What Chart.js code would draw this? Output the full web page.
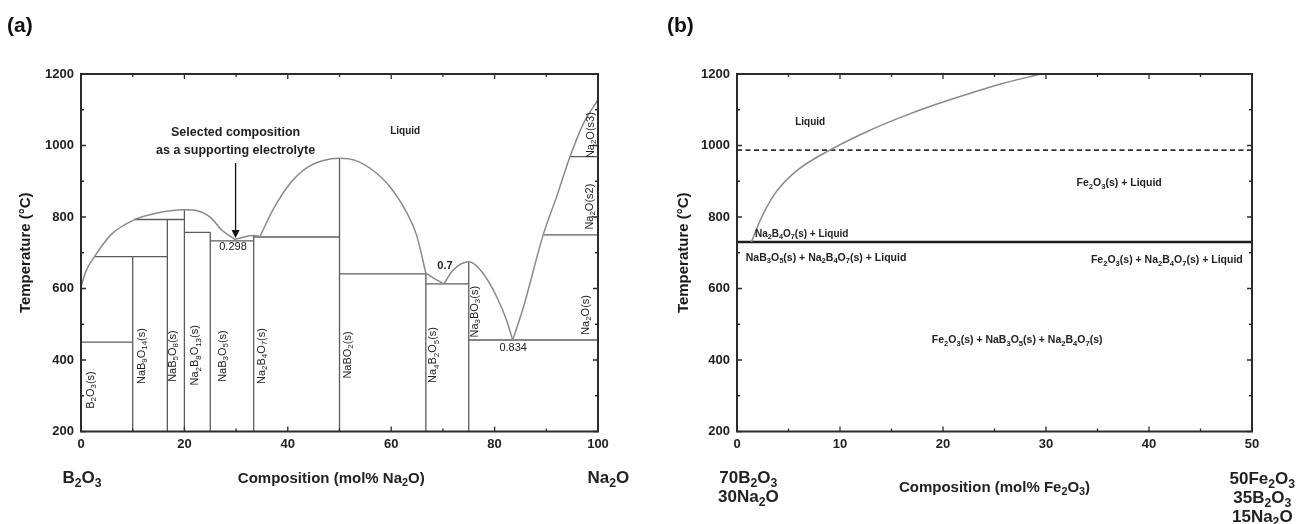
<!DOCTYPE html>
<html>
<head>
<meta charset="utf-8">
<title>B2O3-Na2O and Fe2O3 phase diagrams</title>
<script src="https://cdn.jsdelivr.net/npm/chart.js@4.4.1/dist/chart.umd.min.js"></script>
<style>
  html, body { margin: 0; padding: 0; background: #fff; }
  #wrap { position: relative; width: 1303px; height: 524px; overflow: hidden; }
  .panel { position: absolute; top: 0; height: 524px; }
  #pa { left: 0; width: 640px; }
  #pb { left: 640px; width: 663px; }
</style>
</head>
<body>
<div id="wrap">
  <div class="panel" id="pa"><canvas id="chartA"></canvas></div>
  <div class="panel" id="pb"><canvas id="chartB"></canvas></div>
</div>
<script>
const FONT = "'Liberation Sans', Arial, Helvetica, sans-serif";
Chart.defaults.font.family = FONT;
Chart.defaults.color = "#222";

// ---------- data, panel (a): B2O3 - Na2O ----------
const xTicksA = [0, 20, 40, 60, 80, 100];
const yTicks = [200, 400, 600, 800, 1000, 1200];

// liquidus arcs [mol% Na2O, °C], split at the eutectic / peritectic cusps
const liqB2O3Side = [[0, 605], [1, 650], [2.6, 689], [5.9, 752], [10.4, 793], [14.3, 810], [20, 820], [22.6, 817], [25.2, 797], [27.1, 765], [29.8, 737]];
const liqBump = [[29.8, 737], [31.7, 745], [33.5, 748], [34.6, 745]];
const liqNaBO2 = [[34.6, 745], [37.2, 822], [40.4, 893], [43.7, 938], [46.9, 958], [50, 964], [53.3, 957], [56.5, 930], [59.8, 884], [63, 812], [64.9, 750], [66.7, 643]];
const liqNa4B2O5 = [[66.7, 643], [68.1, 630], [70.2, 613]];
const liqNa3BO3 = [[70.2, 613], [72, 652], [75.1, 675], [77.8, 642], [80.4, 577], [82.3, 512], [83.5, 456]];
const liqNa2O = [[83.5, 456], [85.6, 549], [89.4, 750], [92, 857], [94.6, 969], [97.2, 1062], [100, 1128]];

// horizontal tie lines [from, to, °C]
const tiesA = [[0, 10, 450], [2.6, 16.7, 689], [10.4, 20, 793], [20, 25, 757], [25, 33.4, 733], [33.4, 50, 744],
               [50, 66.7, 641], [66.7, 75, 613], [75, 100, 456], [89.4, 100, 750], [94.6, 100, 969]];
// compound lines [mol% Na2O, from °C, to °C]
const compoundsA = [[10, 200, 689], [16.7, 200, 793], [20, 200, 820], [25, 200, 757], [33.4, 200, 748],
                    [50, 200, 964], [66.7, 200, 643], [75, 200, 675]];

// ---------- data, panel (b): Fe2O3 section ----------
const xTicksB = [0, 10, 20, 30, 40, 50];
const liqFe2O3 = [[1.4, 730], [1.7, 752], [2.4, 800], [3.7, 866], [5.6, 925], [9, 987], [12.7, 1040], [16, 1080], [19.2, 1114], [22.5, 1145], [25.7, 1173], [29.5, 1200]];
const dashedB = [[0, 987], [50, 987]];
const solidusB = [[0, 730], [50, 730]];

// ---------- helpers ----------
const pts = arr => arr.map(p => ({ x: p[0], y: p[1] }));

function lineSet(data, color, width, extra) {
  return Object.assign({
    data: data, showLine: true, borderColor: color, borderWidth: width,
    pointRadius: 0, pointHoverRadius: 0, fill: false
  }, extra || {});
}

// "_x" marks a one-character subscript
function richParts(str) {
  const parts = [];
  for (let i = 0; i < str.length; i++) {
    if (str[i] === "_" && i + 1 < str.length) {
      parts.push({ t: str[i + 1], sub: true });
      i++;
    } else {
      const last = parts[parts.length - 1];
      if (last && !last.sub) last.t += str[i];
      else parts.push({ t: str[i], sub: false });
    }
  }
  return parts;
}

function drawRich(ctx, str, x, y, o) {
  const w8 = o.bold ? "bold " : "";
  const fMain = w8 + o.size + "px " + FONT;
  const fSub = w8 + (o.size * 0.72).toFixed(1) + "px " + FONT;
  const parts = richParts(str);
  let w = 0;
  parts.forEach(p => { ctx.font = p.sub ? fSub : fMain; p.w = ctx.measureText(p.t).width; w += p.w; });
  ctx.save();
  ctx.translate(x, y);
  if (o.rotate) ctx.rotate(o.rotate);
  let cx = o.align === "left" ? 0 : o.align === "right" ? -w : -w / 2;
  ctx.fillStyle = o.color || "#222";
  ctx.textBaseline = "middle";
  ctx.textAlign = "left";
  parts.forEach(p => {
    ctx.font = p.sub ? fSub : fMain;
    ctx.fillText(p.t, cx, p.sub ? o.size * 0.3 : 0);
    cx += p.w;
  });
  ctx.restore();
}

// frame, inward ticks, labels, arrow
const decor = {
  id: "decor",
  afterDatasetsDraw(chart, args, opts) {
    const { ctx, chartArea: a, scales: { x, y } } = chart;
    ctx.save();
    ctx.strokeStyle = "#2b2b2b";
    ctx.lineWidth = 1.3;
    const tickSet = vals => {
      const out = [];
      vals.forEach((v, i) => {
        out.push([v, 5]);
        if (i < vals.length - 1) out.push([(v + vals[i + 1]) / 2, 3]);
      });
      return out;
    };
    ctx.beginPath();
    tickSet(opts.xTicks).forEach(([v, len]) => {
      const px = x.getPixelForValue(v);
      ctx.moveTo(px, a.bottom); ctx.lineTo(px, a.bottom - len);
      ctx.moveTo(px, a.top); ctx.lineTo(px, a.top + len);
    });
    tickSet(yTicks).forEach(([v, len]) => {
      const py = y.getPixelForValue(v);
      ctx.moveTo(a.left, py); ctx.lineTo(a.left + len, py);
      ctx.moveTo(a.right, py); ctx.lineTo(a.right - len, py);
    });
    ctx.stroke();
    ctx.lineWidth = 2;
    ctx.strokeRect(a.left, a.top, a.right - a.left, a.bottom - a.top);

    // arrow
    if (opts.arrow) {
      const [ax, yFrom, yTo] = opts.arrow;
      const px = x.getPixelForValue(ax), p1 = y.getPixelForValue(yFrom), p2 = y.getPixelForValue(yTo);
      ctx.strokeStyle = "#111";
      ctx.fillStyle = "#111";
      ctx.lineWidth = 1.3;
      ctx.beginPath(); ctx.moveTo(px, p1); ctx.lineTo(px, p2 - 7); ctx.stroke();
      ctx.beginPath(); ctx.moveTo(px - 4, p2 - 8); ctx.lineTo(px + 4, p2 - 8); ctx.lineTo(px, p2); ctx.closePath(); ctx.fill();
    }

    // texts placed in data coordinates
    (opts.texts || []).forEach(t => {
      drawRich(ctx, t.text, x.getPixelForValue(t.x), y.getPixelForValue(t.y),
        { size: t.size, bold: t.bold, align: t.align, rotate: t.rot ? -Math.PI / 2 : 0 });
    });
    // texts below the axis: x in data units, dy in px below the plot
    (opts.below || []).forEach(t => {
      drawRich(ctx, t.text, x.getPixelForValue(t.x), a.bottom + t.dy, { size: t.size, bold: true });
    });
    // panel letter
    drawRich(ctx, opts.letter, opts.letterX, 26, { size: 21, bold: true, align: "left", color: "#111" });
    ctx.restore();
  }
};

function baseOptions(xMin, xMax, xTicks, padRight, yWidth, yTitlePad, texts, below, letter, letterX, arrow) {
  return {
    responsive: true,
    maintainAspectRatio: false,
    animation: false,
    events: [],
    layout: { padding: { left: 0, right: padRight, top: 74, bottom: 0 } },
    plugins: {
      legend: { display: false },
      tooltip: { enabled: false },
      decor: { xTicks: xTicks, texts: texts, below: below, letter: letter, letterX: letterX, arrow: arrow }
    },
    scales: {
      x: {
        type: "linear", min: xMin, max: xMax,
        afterBuildTicks: s => { s.ticks = xTicks.map(v => ({ value: v })); },
        afterFit: s => { s.height = 92.5; },
        grid: { display: false, drawTicks: false },
        border: { display: false },
        ticks: { padding: 5, color: "#222", font: { size: 13, weight: "bold" }, callback: v => String(v) }
      },
      y: {
        type: "linear", min: 200, max: 1200,
        afterBuildTicks: s => { s.ticks = yTicks.map(v => ({ value: v })); },
        afterFit: s => { s.width = yWidth; },
        grid: { display: false, drawTicks: false },
        border: { display: false },
        ticks: { padding: 7, color: "#222", font: { size: 13, weight: "bold" }, callback: v => String(v) },
        title: { display: true, text: "Temperature (°C)", color: "#1a1a1a", font: { size: 15, weight: "bold" }, padding: { top: yTitlePad, bottom: 0 } }
      }
    }
  };
}

// ---------- panel (a) ----------
const curveA = "#8a8a8a", tieA = "#5c5c5c";
const dsA = [];
[liqB2O3Side, liqBump, liqNaBO2, liqNa4B2O5, liqNa3BO3, liqNa2O].forEach(c =>
  dsA.push(lineSet(pts(c), curveA, 1.5, { cubicInterpolationMode: "monotone" })));
tiesA.forEach(t => dsA.push(lineSet([{ x: t[0], y: t[2] }, { x: t[1], y: t[2] }], tieA, 1.3)));
compoundsA.forEach(c => dsA.push(lineSet([{ x: c[0], y: c[1] }, { x: c[0], y: c[2] }], tieA, 1.3)));

const textsA = [
  { text: "Liquid", x: 62.7, y: 1040, size: 10, bold: true },
  { text: "Selected composition", x: 29.9, y: 1035, size: 12.5, bold: true },
  { text: "as a supporting electrolyte", x: 29.9, y: 987, size: 12.5, bold: true },
  { text: "0.298", x: 29.4, y: 716, size: 11 },
  { text: "0.7", x: 70.4, y: 664, size: 11, bold: true },
  { text: "0.834", x: 83.6, y: 434, size: 11 },
  { text: "B_2O_3(s)", x: 1.9, y: 316, size: 11, rot: true },
  { text: "NaB_9O_1_4(s)", x: 11.7, y: 411, size: 11, rot: true },
  { text: "NaB_5O_8(s)", x: 17.7, y: 411, size: 11, rot: true },
  { text: "Na_2B_8O_1_3(s)", x: 22.1, y: 413, size: 11, rot: true },
  { text: "NaB_3O_5(s)", x: 27.4, y: 411, size: 11, rot: true },
  { text: "Na_2B_4O_7(s)", x: 35, y: 411, size: 11, rot: true },
  { text: "NaBO_2(s)", x: 51.6, y: 414, size: 11, rot: true },
  { text: "Na_4B_2O_5(s)", x: 68.1, y: 414, size: 11, rot: true },
  { text: "Na_3BO_3(s)", x: 76.2, y: 535, size: 11, rot: true },
  { text: "Na_2O(s)", x: 97.6, y: 526, size: 11, rot: true },
  { text: "Na_2O(s2)", x: 98.4, y: 829, size: 11, rot: true },
  { text: "Na_2O(s3)", x: 98.6, y: 1029, size: 11, rot: true }
];
const belowA = [
  { text: "B_2O_3", x: 0.2, dy: 47, size: 17 },
  { text: "Composition (mol% Na_2O)", x: 48.4, dy: 47, size: 15 },
  { text: "Na_2O", x: 102, dy: 47, size: 17 }
];

new Chart(document.getElementById("chartA"), {
  type: "scatter",
  data: { datasets: dsA },
  options: baseOptions(0, 100, xTicksA, 42, 81, 17, textsA, belowA, "(a)", 7, [29.9, 951, 741]),
  plugins: [decor]
});

// ---------- panel (b) ----------
const dsB = [
  lineSet(pts(liqFe2O3), "#8a8a8a", 1.5, { cubicInterpolationMode: "monotone" }),
  lineSet(pts(dashedB), "#333", 1.6, { borderDash: [5, 3.5] }),
  lineSet(pts(solidusB), "#1e1e1e", 2.5)
];
const textsB = [
  { text: "Liquid", x: 7.1, y: 1066, size: 10, bold: true },
  { text: "Na_2B_4O_7(s) + Liquid", x: 1.75, y: 751, size: 10, bold: true, align: "left" },
  { text: "NaB_3O_5(s) + Na_2B_4O_7(s) + Liquid", x: 0.85, y: 685, size: 10.5, bold: true, align: "left" },
  { text: "Fe_2O_3(s) + Liquid", x: 37.1, y: 894, size: 10.5, bold: true },
  { text: "Fe_2O_3(s) + Na_2B_4O_7(s) + Liquid", x: 49.1, y: 679, size: 10.5, bold: true, align: "right" },
  { text: "Fe_2O_3(s) + NaB_3O_5(s) + Na_2B_4O_7(s)", x: 27.2, y: 455, size: 10.5, bold: true }
];
const belowB = [
  { text: "70B_2O_3", x: 1.1, dy: 47, size: 17 },
  { text: "30Na_2O", x: 1.1, dy: 66, size: 17 },
  { text: "Composition (mol% Fe_2O_3)", x: 25, dy: 56, size: 15 },
  { text: "50Fe_2O_3", x: 51, dy: 48, size: 17 },
  { text: "35B_2O_3", x: 51, dy: 67, size: 17 },
  { text: "15Na_2O", x: 51, dy: 86, size: 17 }
];

new Chart(document.getElementById("chartB"), {
  type: "scatter",
  data: { datasets: dsB },
  options: baseOptions(0, 50, xTicksB, 51, 97, 35, textsB, belowB, "(b)", 27, null),
  plugins: [decor]
});
</script>
</body>
</html>
